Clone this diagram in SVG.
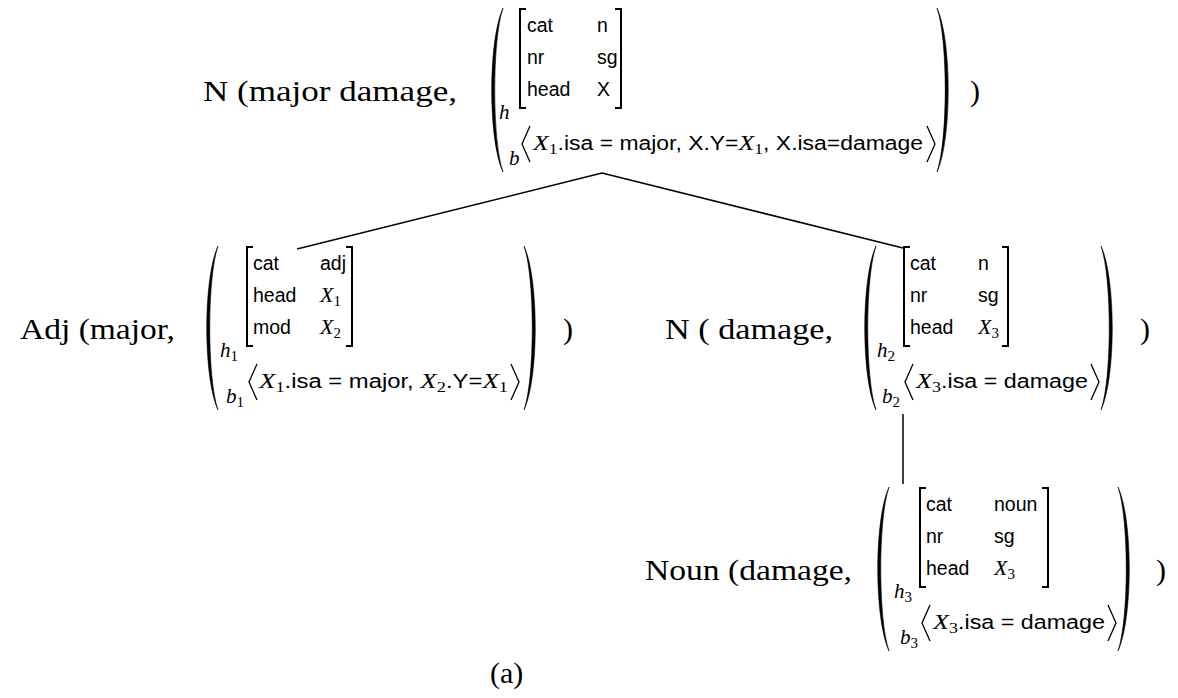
<svg xmlns="http://www.w3.org/2000/svg" width="1178" height="698" viewBox="0 0 1178 698">
<style>
.lbl{font-family:"Liberation Serif",serif;font-size:30px;fill:#000}
.av{font-family:"Liberation Sans",sans-serif;font-size:19.5px;fill:#000}
.mi{font-family:"Liberation Serif",serif;font-style:italic;font-size:22px}
.sub{font-family:"Liberation Serif",serif;font-style:normal;font-size:15px}
.hb{font-family:"Liberation Serif",serif;font-style:italic;font-size:21px;fill:#000}
.par{fill:#000;stroke:#000;stroke-width:0.6}
.brk{fill:none;stroke:#000;stroke-width:2}
.ang{fill:none;stroke:#000;stroke-width:1.3}
.edge{fill:none;stroke:#000;stroke-width:1.5}
</style>
<rect width="1178" height="698" fill="#fff"/>
<g id="connectors">
<path class="edge" d="M602,173 L297,249"/>
<path class="edge" d="M602,173 L903,248"/>
<path class="edge" d="M903,414 L903,484"/>
</g>
<g id="n0">
<text class="lbl" x="203" y="101" textLength="254" lengthAdjust="spacingAndGlyphs">N (major damage,</text>
<path class="par" d="M503,8 C488,40 488,140 503,172 C492,140 492,40 503,8 Z"/>
<text class="hb" x="499" y="119">h</text>
<path class="brk" d="M526,9 H520 V108 H526"/>
<text class="av" x="527" y="32">cat</text>
<text class="av" x="527" y="64">nr</text>
<text class="av" x="527" y="96">head</text>
<text class="av" x="597" y="32">n</text>
<text class="av" x="597" y="64">sg</text>
<text class="av" x="597" y="96">X</text>
<path class="brk" d="M615,9 H621 V108 H615"/>
<text class="hb" x="509" y="165">b</text>
<polyline class="ang" points="530,126 522,144 530,162"/>
<text class="av" x="533" y="150" textLength="390" lengthAdjust="spacingAndGlyphs"><tspan class="mi">X</tspan><tspan class="sub" dy="4">1</tspan><tspan dy="-4">.isa = major, X.Y=</tspan><tspan class="mi">X</tspan><tspan class="sub" dy="4">1</tspan><tspan dy="-4">, X.isa=damage</tspan></text>
<polyline class="ang" points="927,126 935,144 927,162"/>
<path class="par" d="M937,8 C952,40 952,140 937,172 C948,140 948,40 937,8 Z"/>
<text class="lbl" x="970" y="101">)</text>
</g>
<g id="n1">
<text class="lbl" x="20" y="339" textLength="155" lengthAdjust="spacingAndGlyphs">Adj (major,</text>
<path class="par" d="M218,246 C203,278 203,378 218,410 C207,378 207,278 218,246 Z"/>
<text class="hb" x="220" y="357">h<tspan class="sub" dy="4">1</tspan></text>
<path class="brk" d="M253,247 H247 V346 H253"/>
<text class="av" x="253" y="270">cat</text>
<text class="av" x="253" y="302">head</text>
<text class="av" x="253" y="334">mod</text>
<text class="av" x="320" y="270">adj</text>
<text class="av" x="320" y="302"><tspan class="mi">X</tspan><tspan class="sub" dy="4">1</tspan></text>
<text class="av" x="320" y="334"><tspan class="mi">X</tspan><tspan class="sub" dy="4">2</tspan></text>
<path class="brk" d="M346,247 H352 V346 H346"/>
<text class="hb" x="226" y="403">b<tspan class="sub" dy="4">1</tspan></text>
<polyline class="ang" points="257,364 249,382 257,400"/>
<text class="av" x="259" y="388" textLength="249" lengthAdjust="spacingAndGlyphs"><tspan class="mi">X</tspan><tspan class="sub" dy="4">1</tspan><tspan dy="-4">.isa = major, </tspan><tspan class="mi">X</tspan><tspan class="sub" dy="4">2</tspan><tspan dy="-4">.Y=</tspan><tspan class="mi">X</tspan><tspan class="sub" dy="4">1</tspan></text>
<polyline class="ang" points="511,364 519,382 511,400"/>
<path class="par" d="M524,246 C539,278 539,378 524,410 C535,378 535,278 524,246 Z"/>
<text class="lbl" x="563" y="339">)</text>
</g>
<g id="n2">
<text class="lbl" x="665" y="339" textLength="168" lengthAdjust="spacingAndGlyphs">N ( damage,</text>
<path class="par" d="M876,246 C861,278 861,378 876,410 C865,378 865,278 876,246 Z"/>
<text class="hb" x="877" y="357">h<tspan class="sub" dy="4">2</tspan></text>
<path class="brk" d="M910,247 H904 V346 H910"/>
<text class="av" x="910" y="270">cat</text>
<text class="av" x="910" y="302">nr</text>
<text class="av" x="910" y="334">head</text>
<text class="av" x="978" y="270">n</text>
<text class="av" x="978" y="302">sg</text>
<text class="av" x="978" y="334"><tspan class="mi">X</tspan><tspan class="sub" dy="4">3</tspan></text>
<path class="brk" d="M1002,247 H1008 V346 H1002"/>
<text class="hb" x="882" y="403">b<tspan class="sub" dy="4">2</tspan></text>
<polyline class="ang" points="913,364 905,382 913,400"/>
<text class="av" x="916" y="388" textLength="172" lengthAdjust="spacingAndGlyphs"><tspan class="mi">X</tspan><tspan class="sub" dy="4">3</tspan><tspan dy="-4">.isa = damage</tspan></text>
<polyline class="ang" points="1091,364 1099,382 1091,400"/>
<path class="par" d="M1101,246 C1116,278 1116,378 1101,410 C1112,378 1112,278 1101,246 Z"/>
<text class="lbl" x="1140" y="339">)</text>
</g>
<g id="n3">
<text class="lbl" x="645" y="580" textLength="207" lengthAdjust="spacingAndGlyphs">Noun (damage,</text>
<path class="par" d="M889,487 C874,519 874,619 889,651 C878,619 878,519 889,487 Z"/>
<text class="hb" x="894" y="598">h<tspan class="sub" dy="4">3</tspan></text>
<path class="brk" d="M926,488 H920 V587 H926"/>
<text class="av" x="926" y="511">cat</text>
<text class="av" x="926" y="543">nr</text>
<text class="av" x="926" y="575">head</text>
<text class="av" x="994" y="511">noun</text>
<text class="av" x="994" y="543">sg</text>
<text class="av" x="994" y="575"><tspan class="mi">X</tspan><tspan class="sub" dy="4">3</tspan></text>
<path class="brk" d="M1042,488 H1048 V587 H1042"/>
<text class="hb" x="900" y="644">b<tspan class="sub" dy="4">3</tspan></text>
<polyline class="ang" points="930,605 922,623 930,641"/>
<text class="av" x="933" y="629" textLength="172" lengthAdjust="spacingAndGlyphs"><tspan class="mi">X</tspan><tspan class="sub" dy="4">3</tspan><tspan dy="-4">.isa = damage</tspan></text>
<polyline class="ang" points="1108,605 1116,623 1108,641"/>
<path class="par" d="M1118,487 C1133,519 1133,619 1118,651 C1129,619 1129,519 1118,487 Z"/>
<text class="lbl" x="1156" y="580">)</text>
</g>
<g id="caption">
<text class="lbl" x="490" y="683">(a)</text>
</g>
</svg>
